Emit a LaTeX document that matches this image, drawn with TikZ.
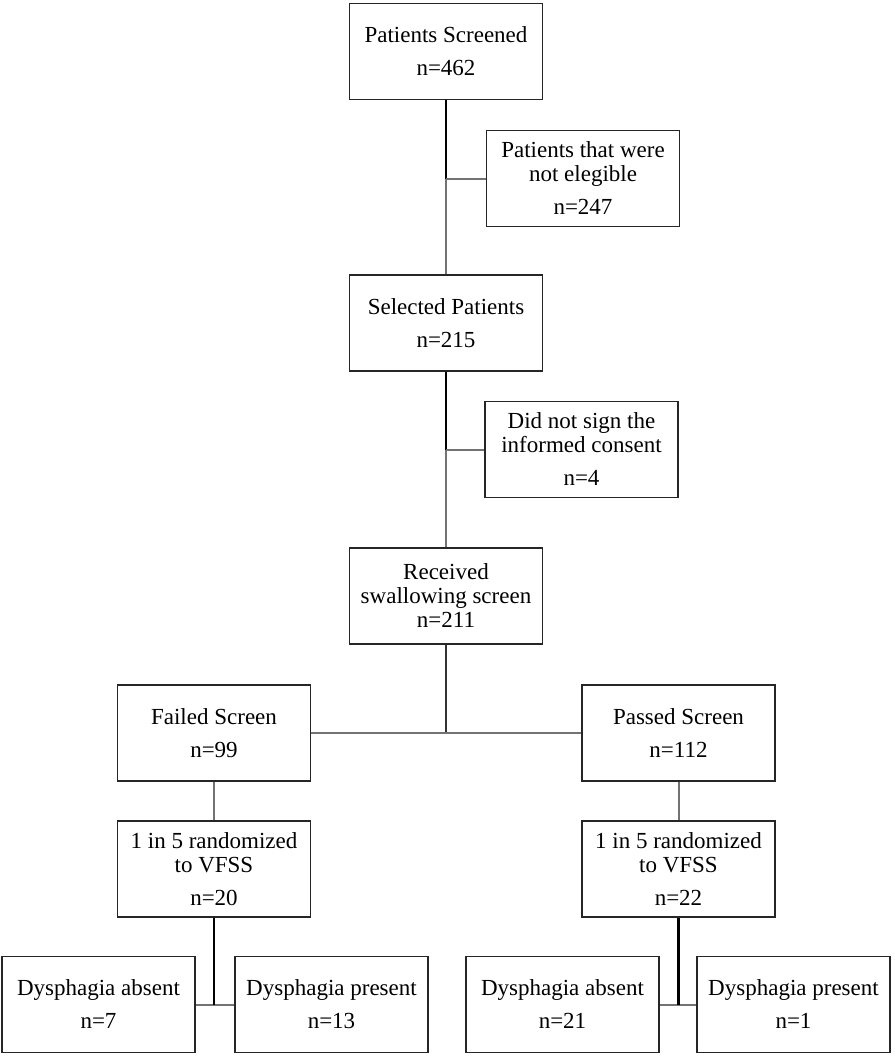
\documentclass[tikz,border=0pt]{standalone}
\usepackage{fontspec}
\setmainfont{Liberation Serif}
\usepackage{tikz}
\usetikzlibrary{positioning,calc}

\tikzset{
    box/.style={draw=black!85, line width=1.8pt, fill=white, minimum width=193pt, minimum height=96pt, align=center, inner sep=0pt, font=\fontsize{23}{24}\selectfont},
    boldline/.style={draw=black, line width=2.6pt},
    midline/.style={draw=black!80, line width=2pt},
    greyline/.style={draw=black!55, line width=2pt}
}

\begin{document}
\begin{tikzpicture}[x=1pt,y=-1pt]
        \useasboundingbox[fill=white] (0,0) rectangle (894,1057);

        % boxes - top to bottom, coordinates in pixels of the original chart
        \node[box] (screened)  at (446,51.5)   {Patients Screened\\[9pt]n=462};
        \node[box] (noteleg)   at (583,178.5)  {Patients that were\\not elegible\\[9pt]n=247};
        \node[box] (selected)  at (446,323)    {Selected Patients\\[9pt]n=215};
        \node[box] (noconsent) at (581.5,449.5){Did not sign the\\informed consent\\[9pt]n=4};
        \node[box] (received)  at (446,596)    {Received\\swallowing screen\\n=211};
        \node[box] (failed)    at (214,733)    {Failed Screen\\[9pt]n=99};
        \node[box] (passed)    at (678.5,733)  {Passed Screen\\[9pt]n=112};
        \node[box] (randA)     at (214,869)    {1 in 5 randomized\\to VFSS\\[9pt]n=20};
        \node[box] (randB)     at (678.5,869)  {1 in 5 randomized\\to VFSS\\[9pt]n=22};
        \node[box] (absA)      at (98.5,1004.5)  {Dysphagia absent\\[9pt]n=7};
        \node[box] (presA)     at (331.5,1004.5) {Dysphagia present\\[9pt]n=13};
        \node[box] (absB)      at (562.5,1004.5) {Dysphagia absent\\[9pt]n=21};
        \node[box] (presB)     at (793.5,1004.5) {Dysphagia present\\[9pt]n=1};

        % connectors - black part down to the branch, grey part after it
        \draw[boldline] (screened.south) -- (screened.south |- noteleg.west) coordinate (brA);   % screened to exclusion branch
        \draw[greyline] (brA) -- (noteleg.west);                                                % branch to not elegible
        \draw[greyline] (brA) -- (selected.north);                                              % branch to selected
        \draw[boldline] (selected.south) -- (selected.south |- noconsent.west) coordinate (brB); % selected to consent branch
        \draw[greyline] (brB) -- (noconsent.west);                                              % branch to no consent
        \draw[greyline] (brB) -- (received.north);                                              % branch to received
        \draw[midline] (received.south) -- (received.south |- failed.east);                     % received to split
        \draw[greyline] (failed.east) -- (passed.west);                                         % failed / passed
        \draw[greyline] (failed.south) -- (randA.north);
        \draw[greyline] (passed.south) -- (randB.north);
        \draw[greyline] (absA.east) -- (presA.west);                                            % left outcome pair
        \draw[greyline] (absB.east) -- (presB.west);                                            % right outcome pair
        \draw[boldline] (randA.south) -- (randA.south |- absA.east);
        \draw[boldline] (randB.south) -- (randB.south |- absB.east);
    \end{tikzpicture}
\end{document}
